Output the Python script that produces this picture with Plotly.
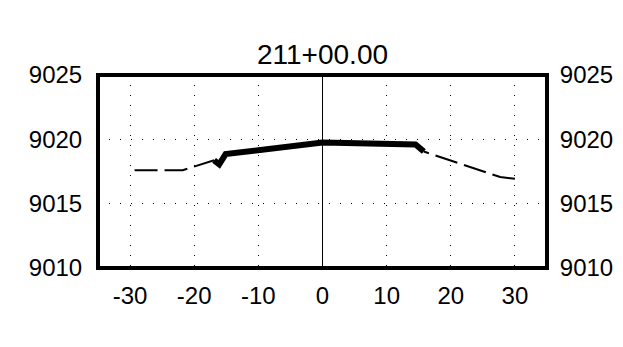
import plotly.graph_objects as go

# Section data
ground_left_x = [-29.3, -21.8, -16.9]
ground_left_y = [9017.59, 9017.6, 9018.37]
ground_right_x = [30.0, 27.7, 15.8]
ground_right_y = [9016.94, 9017.07, 9019.05]
design_x = [-16.9, -16.1, -15.1, 0.0, 14.5, 15.8]
design_y = [9018.37, 9018.05, 9018.85, 9019.75, 9019.6, 9019.05]

x_ticks = [-30, -20, -10, 0, 10, 20, 30]
y_ticks = [9010, 9015, 9020, 9025]
title_text = "211+00.00"

FONT = "Liberation Sans, Arial, sans-serif"
W, H = 607, 331  # page body adds an 8px margin

fig = go.Figure()
fig.add_trace(go.Scatter(x=ground_left_x, y=ground_left_y, mode="lines",
                         line=dict(color="black", width=2, dash="23px,7px"),
                         hoverinfo="skip", showlegend=False))
fig.add_trace(go.Scatter(x=ground_right_x, y=ground_right_y, mode="lines",
                         line=dict(color="black", width=2, dash="23px,7px"),
                         hoverinfo="skip", showlegend=False))
fig.add_trace(go.Scatter(x=design_x, y=design_y, mode="lines",
                         line=dict(color="black", width=6),
                         hoverinfo="skip", showlegend=False))
# invisible trace to bind the right-hand axis
fig.add_trace(go.Scatter(x=design_x, y=design_y, mode="lines", yaxis="y2",
                         line=dict(color="rgba(0,0,0,0)", width=0),
                         hoverinfo="skip", showlegend=False))

fig.update_layout(
    width=W, height=H,
    margin=dict(l=90, r=68, t=67, b=71, autoexpand=False),
    paper_bgcolor="white", plot_bgcolor="white",
    font=dict(family=FONT, color="black"),
    title=dict(text=title_text, x=0.5, xanchor="center", xref="paper",
               y=1 - 46 / H, yanchor="middle", yref="container",
               font=dict(size=28, family=FONT, color="black")),
    xaxis=dict(range=[-35, 35], tickvals=x_ticks, ticktext=[str(v) for v in x_ticks],
               showgrid=True, gridcolor="black", gridwidth=1, griddash="1px,9px",
               zeroline=True, zerolinecolor="black", zerolinewidth=1, automargin=False,
               showline=False, ticks="outside", ticklen=6, tickcolor="rgba(0,0,0,0)",
               tickfont=dict(size=24, family=FONT, color="black"), fixedrange=True),
    yaxis=dict(range=[9010, 9025], tickvals=y_ticks, ticktext=[str(v) for v in y_ticks],
               showgrid=True, gridcolor="black", gridwidth=1, griddash="1px,10px",
               zeroline=False, showline=False, ticks="outside", ticklen=10,
               tickcolor="rgba(0,0,0,0)", automargin=False,
               tickfont=dict(size=24, family=FONT, color="black"), fixedrange=True),
    yaxis2=dict(range=[9010, 9025], tickvals=y_ticks, ticktext=[str(v) for v in y_ticks],
                overlaying="y", side="right", anchor="x", showgrid=False,
                zeroline=False, showline=False, ticks="outside", ticklen=7,
                tickcolor="rgba(0,0,0,0)", automargin=False,
                tickfont=dict(size=24, family=FONT, color="black"), fixedrange=True),
    shapes=[dict(type="rect", xref="paper", yref="paper", x0=0, x1=1, y0=0, y1=1,
                 line=dict(color="black", width=4), fillcolor="rgba(0,0,0,0)",
                 layer="above")],
)

fig.write_html("out.html")
